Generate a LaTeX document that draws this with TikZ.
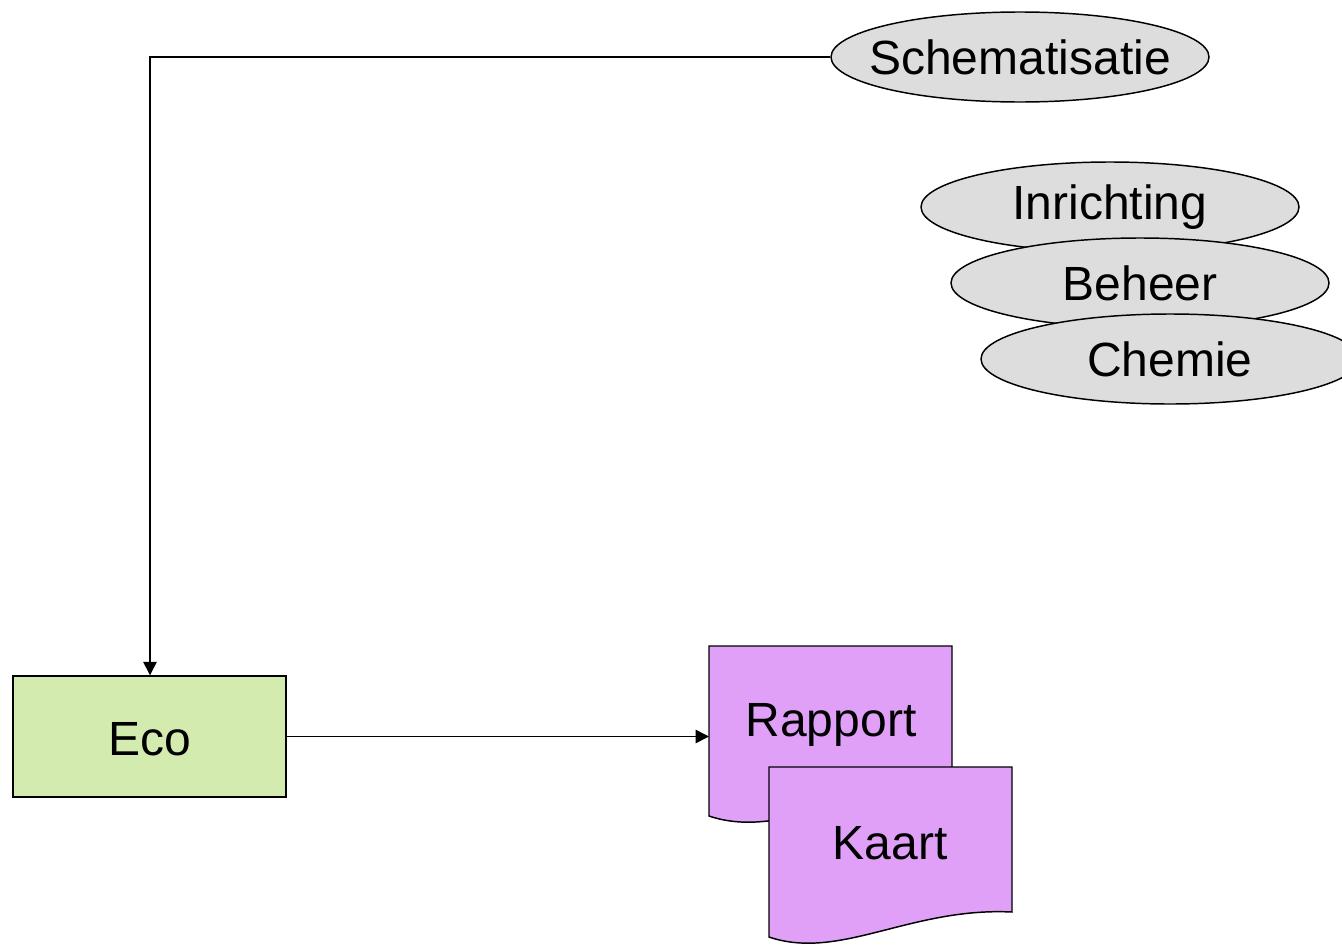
\documentclass[tikz,border=0pt]{standalone}
\usepackage{fontspec}
\setmainfont{Liberation Sans}
\usetikzlibrary{shapes.geometric,arrows.meta}
\definecolor{ovalgray}{RGB}{221,221,221}
\definecolor{ecogreen}{RGB}{212,235,176}
\definecolor{docpurple}{RGB}{224,160,248}
\tikzset{
  oval/.style={ellipse, draw=black, line width=1.1pt, fill=ovalgray, minimum width=283.5pt, minimum height=67.5pt, inner xsep=-16pt, inner ysep=0pt, font=\fontsize{36}{43}\selectfont},
  procbox/.style={rectangle, draw=black, line width=1.1pt, fill=ecogreen, minimum width=204.75pt, minimum height=90.75pt, inner sep=0pt, font=\fontsize{36}{43}\selectfont},
  doclabel/.style={draw=none, inner sep=0pt, font=\fontsize{36}{43}\selectfont},
  docshape/.style={draw=black, line width=1.1pt, fill=docpurple},
  conn/.style={draw=black, line width=1.1pt, -{Triangle[length=10pt,width=10pt]}},
}
\begin{document}
\begin{tikzpicture}[x=0.75pt,y=-0.75pt]
\useasboundingbox (0,0) rectangle (1342,946);
\clip (0,0) rectangle (1342,946);
% ellipses
\node[oval] (schem) at (1020,57) {Schematisatie};
\node[oval] (inr) at (1110,207) {Inrichting};
\node[oval] (beh) at (1140,283) {Beheer};
\node[oval] (chem) at (1170,359) {Chemie};
% Eco box
\node[procbox] (eco) at (149.5,736.5) {};
\node[doclabel] (ecotext) at (149.5,739) {Eco};
% Rapport document
\draw[docshape] (709,646) -- (952,646) -- (952,791)
  .. controls (850,786) and (780,840) .. (709,816) -- cycle;
\node[doclabel] (rapport) at (831,725) {Rapport};
\coordinate (rapportin) at (709,737);
% Kaart document
\draw[docshape] (769,767) -- (1012,767) -- (1012,912)
  .. controls (910,907) and (840,961) .. (769,937) -- cycle;
\node[doclabel] (kaart) at (890,843) {Kaart};
% connectors
\coordinate (corner) at (150,57);
\draw[conn] (schem.west) -- (corner) -- (eco.north -| corner);
\draw[conn] (eco.east) -- (eco.east -| rapportin);
\end{tikzpicture}
\end{document}
